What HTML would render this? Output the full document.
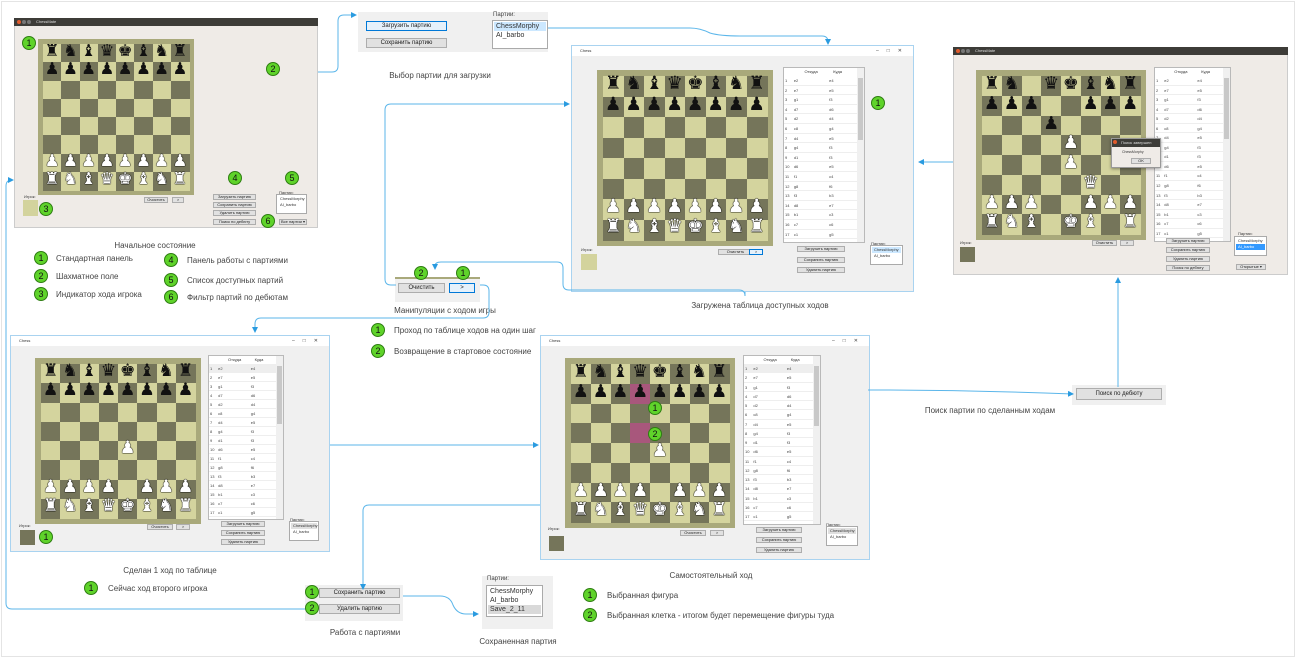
<!DOCTYPE html>
<html><head><meta charset="utf-8">
<style>
*{margin:0;padding:0;box-sizing:border-box}
body{width:1296px;height:658px;background:#fff;position:relative;overflow:hidden;font-family:"Liberation Sans","DejaVu Sans",sans-serif;color:#333}
.a{position:absolute}
.m{position:absolute;width:14px;height:14px;border-radius:50%;background:#5fd32a;border:1px solid #2e7d12;font-size:9px;line-height:12px;text-align:center;color:#111}
.t{position:absolute;font-size:8px;color:#444;white-space:nowrap}
.cap{position:absolute;font-size:8px;color:#444;white-space:nowrap;transform:translateX(-50%)}
.btn{position:absolute;background:#e1e1e1;border:1px solid #adadad;font-size:6px;text-align:center;color:#222;white-space:nowrap;overflow:hidden}
.pc{position:absolute;text-align:center;font-family:"DejaVu Sans",sans-serif}
</style></head><body>
<div class="a" style="left:1px;top:1px;width:1294px;height:656px;border:1px solid #e4e4e4"></div>
<div id="root"></div>

<!-- connectors -->
<svg class="a" style="left:0;top:0" width="1296" height="658">
<defs><marker id="ar" markerWidth="6" markerHeight="6" refX="5" refY="3" orient="auto"><path d="M0,0 L6,3 L0,6z" fill="#2a9be0"/></marker></defs>
<g fill="none" stroke="#5bb6ea" stroke-width="1">
<path d="M318,72 H332 Q338,72 338,66 V21 Q338,15 344,15 H356" marker-end="url(#ar)"/>
<path d="M548,28 H690 Q700,28 710,33 Q720,36 740,36 H822 Q828,36 828,42 V44" marker-end="url(#ar)"/>
<path d="M396,285 H391 Q385,285 385,279 V110 Q385,104 391,104 H569" marker-end="url(#ar)"/>
<path d="M745,292 V296 Q745,290 739,290 H569 Q563,290 563,284 V268 Q563,262 557,262 H441 Q435,262 435,266 V269" marker-end="url(#ar)"/>
<path d="M480,285 H483 Q489,285 489,291 V312 Q489,318 483,318 H261 Q255,318 255,324 V332" marker-end="url(#ar)"/>
<path d="M953,162 H919" marker-end="url(#ar)"/>
<path d="M1118,387 V278" marker-end="url(#ar)"/>
<path d="M330,445 H538" marker-end="url(#ar)"/>
<path d="M868,390 Q970,390 1073,394" marker-end="url(#ar)"/>
<path d="M540,505 H369 Q363,505 363,511 V589" marker-end="url(#ar)"/>
<path d="M305,609 H12 Q6,609 6,603 V186 Q6,180 12,180 H13" marker-end="url(#ar)"/>
<path d="M403,596 H440 Q450,596 453,605 Q457,614 466,614 H478" marker-end="url(#ar)"/>
</g>
</svg>

<script>
var R=document.getElementById('root'),H='';
function add(s){H+=s}
var init=["rnbqkbnr","pppppppp","........","........","........","........","PPPPPPPP","RNBQKBNR"];
var G={k:'♚',q:'♛',r:'♜',b:'♝',n:'♞',p:'♟'};
function board(x,y,s,pos,hl){
 var p=Math.round(s*0.035),q=(s-2*p)/8;
 add('<div class="a" style="left:'+x+'px;top:'+y+'px;width:'+s+'px;height:'+s+'px;background:#a9a97b"></div>');
 for(var r=0;r<8;r++)for(var c=0;c<8;c++){
  var col=((r+c)%2==0)?'#d4d49e':'#75755a';
  if(hl&&hl[r+','+c])col='#a8577c';
  var L=x+p+c*q,T=y+p+r*q;
  add('<div class="a" style="left:'+L.toFixed(1)+'px;top:'+T.toFixed(1)+'px;width:'+(q+0.5).toFixed(1)+'px;height:'+(q+0.5).toFixed(1)+'px;background:'+col+'"></div>');
  var ch=pos[r][c];
  if(ch!='.'){var w=ch==ch.toUpperCase();var g=G[ch.toLowerCase()];
   add('<div class="pc" style="left:'+L.toFixed(1)+'px;top:'+(T-q*0.1).toFixed(1)+'px;width:'+q.toFixed(1)+'px;font-size:'+(q*0.9).toFixed(1)+'px;line-height:'+q.toFixed(1)+'px;color:'+(w?'#fff':'#111')+';'+(w?'text-shadow:0 0 1px #000,0 0 1px #000,0 0 1px #000':'')+'">'+g+'</div>');}
 }
}
var mv=[["e2","e4"],["e7","e5"],["g1","f3"],["d7","d6"],["d2","d4"],["c8","g4"],["d4","e5"],["g4","f3"],["d1","f3"],["d6","e5"],["f1","c4"],["g8","f6"],["f3","b3"],["d8","e7"],["b1","c3"],["c7","c6"],["c1","g5"],["b7","b5"]];
function table(x,y,w,h,sel){
 add('<div class="a" style="left:'+x+'px;top:'+y+'px;width:'+w+'px;height:'+h+'px;background:#fff;border:1px solid #b9b9b9;overflow:hidden">');
 add('<div class="a" style="left:'+(w*0.25)+'px;top:1px;font-size:4px;color:#333">Откуда</div><div class="a" style="left:'+(w*0.6)+'px;top:1px;font-size:4px;color:#333">Куда</div>');
 var rh=(h-8)/17.5;
 for(var i=0;i<18;i++){var T=8+i*rh;
  add('<div class="a" style="left:0;top:'+T.toFixed(1)+'px;width:'+(w-9)+'px;height:'+rh.toFixed(1)+'px;border-bottom:1px solid #eee;font-size:4px;line-height:'+rh.toFixed(1)+'px;color:#444;'+(sel&&i==0?'background:#eee':'')+'"><span class="a" style="left:1px">'+(i+1)+'</span><span class="a" style="left:'+(w*0.12)+'px">'+mv[i][0]+'</span><span class="a" style="left:'+(w*0.55)+'px">'+mv[i][1]+'</span></div>');}
 add('<div class="a" style="right:0;top:0;width:7px;height:100%;background:#f0f0f0"></div><div class="a" style="right:1px;top:10px;width:5px;height:'+(h*0.35)+'px;background:#c8c8c8"></div></div>');
}
function win(x,y,w,h,ub,title){
 add('<div class="a" style="left:'+x+'px;top:'+y+'px;width:'+w+'px;height:'+h+'px;background:'+(ub?'#efebe7':'#f0f0f0')+';border:1px solid '+(ub?'#ccc':'#a9d3f0')+'"></div>');
 if(ub){add('<div class="a" style="left:'+x+'px;top:'+y+'px;width:'+w+'px;height:8px;background:#3d3c38;font-size:4px;color:#ddd;line-height:8px;padding-left:22px">ChessMate</div><div class="a" style="left:'+(x+3)+'px;top:'+(y+2)+'px;width:4px;height:4px;border-radius:50%;background:#e05a2b"></div><div class="a" style="left:'+(x+8)+'px;top:'+(y+2)+'px;width:4px;height:4px;border-radius:50%;background:#777"></div><div class="a" style="left:'+(x+13)+'px;top:'+(y+2)+'px;width:4px;height:4px;border-radius:50%;background:#777"></div>');}
 else{add('<div class="a" style="left:'+(x+1)+'px;top:'+(y+1)+'px;width:'+(w-2)+'px;height:10px;background:#fff;font-size:4px;line-height:10px;padding-left:8px;color:#333">Chess</div><div class="a" style="left:'+(x+w-38)+'px;top:'+(y+1)+'px;font-size:5px;line-height:10px;color:#444;letter-spacing:8px">–□✕</div>');}
}
function btn(x,y,w,h,t,blue){add('<div class="btn" style="left:'+x+'px;top:'+y+'px;width:'+w+'px;height:'+h+'px;font-size:'+(h>9?6:4)+'px;line-height:'+(h-2)+'px;'+(blue?'background:#e5f1fb;border-color:#0078d7':'')+'">'+t+'</div>')}
function list(x,y,w,h,items,sel,selc,fs){add('<div class="a" style="left:'+x+'px;top:'+y+'px;width:'+w+'px;height:'+h+'px;background:#fff;border:1px solid #aaa;padding:1px">');items.forEach(function(t,i){add('<div style="font-size:'+fs+'px;line-height:'+(fs+2)+'px;padding-left:2px;'+(i==sel?'background:'+selc+';'+(selc=='#3399ff'?'color:#fff':''):'')+'">'+t+'</div>')});add('</div>')}
function mk(x,y,n){add('<div class="m" style="left:'+(x-7)+'px;top:'+(y-7)+'px">'+n+'</div>')}
function t4(x,y,s){add('<div class="a" style="left:'+x+'px;top:'+y+'px;font-size:4px;color:#333">'+s+'</div>')}

/* Window A */
win(14,18,304,210,true);
board(38,39,156,init);
btn(144,197,24,6,'Очистить');btn(172,197,12,6,'&gt;');
btn(213,194,43,6,'Загрузить партию');btn(213,202,43,6,'Сохранить партию');btn(213,210,43,6,'Удалить партию');btn(213,219,43,6,'Поиск по дебюту');
t4(279,190,'Партии:');list(276,194,31,20,['ChessMorphy','AI_barbo'],-1,'',4);
btn(279,219,28,6,'Все партии ▾');t4(24,194,'Игрок:');
add('<div class="a" style="left:23px;top:200px;width:15px;height:16px;background:#d3d39d"></div>');
mk(29,43,1);mk(273,69,2);mk(46,209,3);mk(235,178,4);mk(292,178,5);mk(268,221,6);

/* Window B */
win(571,45,343,247,false);
board(597,70,176,init);
table(783,67,82,176,false);
btn(718,249,35,6,'Очистить');btn(749,249,14,6,'&gt;',true);
btn(797,246,48,6,'Загрузить партию');btn(797,257,48,6,'Сохранить партию');btn(797,267,48,6,'Удалить партию');
t4(871,241,'Партии:');list(870,245,33,20,['ChessMorphy','AI_barbo'],0,'#cce8ff',4);
t4(581,247,'Игрок:');add('<div class="a" style="left:581px;top:254px;width:16px;height:16px;background:#d3d39d"></div>');
mk(878,103,1);

/* Window C */
win(953,47,335,228,true);
board(976,70,170,["rn.qkbnr","ppp..ppp","...p....","....P...","....P...",".....Q..","PPP..PPP","RNB.KB.R"]);
table(1154,67,77,175,false);
add('<div class="a" style="left:1111px;top:138px;width:50px;height:30px;background:#efebe7;border:1px solid #999;box-shadow:0 1px 3px rgba(0,0,0,.4)"><div style="height:8px;background:#3d3c38;color:#ddd;font-size:4px;line-height:8px;padding-left:9px">Поиск завершен</div><div style="font-size:3.5px;padding:3px 0 0 10px">ChessMorphy</div></div>');
add('<div class="a" style="left:1113px;top:140px;width:4px;height:4px;border-radius:50%;background:#e05a2b"></div>');
btn(1131,158,20,6,'OK');
btn(1092,240,25,6,'Очистить');btn(1120,240,14,6,'&gt;');
btn(1166,238,44,6,'Загрузить партию');btn(1166,247,44,6,'Сохранить партию');btn(1166,256,44,6,'Удалить партию');btn(1166,265,44,6,'Поиск по дебюту');
t4(1238,231,'Партии:');list(1234,236,33,20,['ChessMorphy','AI_barbo'],1,'#3399ff',4);
btn(1236,264,30,6,'Открытые ▾');t4(960,240,'Игрок:');
add('<div class="a" style="left:960px;top:247px;width:15px;height:15px;background:#75755a"></div>');

/* Window D */
win(10,335,320,217,false);
board(35,358,166,["rnbqkbnr","pppppppp","........","........","....P...","........","PPPP.PPP","RNBQKBNR"]);
table(208,355,76,165,true);
btn(147,524,26,6,'Очистить');btn(176,524,14,6,'&gt;');
btn(221,521,44,6,'Загрузить партию');btn(221,530,44,6,'Сохранить партию');btn(221,539,44,6,'Удалить партию');
t4(290,517,'Партии:');list(289,521,30,20,['ChessMorphy','AI_barbo'],0,'#e0e0e0',4);
t4(19,523,'Игрок:');add('<div class="a" style="left:20px;top:530px;width:15px;height:15px;background:#75755a"></div>');
mk(46,537,1);

/* Window E */
win(540,335,330,225,false);
board(565,358,170,["rnbqkbnr","pppppppp","........","........","....P...","........","PPPP.PPP","RNBQKBNR"],{"1,3":1,"3,3":1});
mk(655,408,1);mk(655,434,2);
table(743,355,78,170,true);
btn(680,530,26,6,'Очистить');btn(710,530,14,6,'&gt;');
btn(756,527,46,6,'Загрузить партию');btn(756,537,46,6,'Сохранить партию');btn(756,547,46,6,'Удалить партию');
t4(826,522,'Партии:');list(826,526,32,20,['ChessMorphy','AI_barbo'],0,'#e0e0e0',4);
t4(548,526,'Игрок:');add('<div class="a" style="left:549px;top:536px;width:15px;height:15px;background:#75755a"></div>');

/* Load panel */
add('<div class="a" style="left:358px;top:12px;width:190px;height:40px;background:#f0f0f0"></div>');
btn(366,21,81,10,'Загрузить партию',true);btn(366,38,81,10,'Сохранить партию');
add('<div class="t" style="left:493px;top:12px;font-size:6px">Партии:</div>');
list(492,20,56,29,['ChessMorphy','AI_barbo'],0,'#cce8ff',7);

/* Manip panel */
add('<div class="a" style="left:395px;top:277px;width:85px;height:25px;background:#f0f0f0;border-top:2px solid #a9a97b"></div>');
btn(398,283,47,10,'Очистить');btn(449,283,26,10,'&gt;',true);
mk(421,273,2);mk(463,273,1);

/* Rabota panel */
add('<div class="a" style="left:305px;top:585px;width:98px;height:36px;background:#f0f0f0"></div>');
btn(319,588,81,10,'Сохранить партию');btn(319,604,81,10,'Удалить партию');
mk(312,592,1);mk(312,608,2);

/* Saved */
add('<div class="a" style="left:482px;top:576px;width:71px;height:53px;background:#f0f0f0"></div>');
add('<div class="t" style="left:487px;top:576px;font-size:6px">Партии:</div>');
list(486,585,57,32,['ChessMorphy','AI_barbo','Save_2_11'],2,'#d9d9d9',7);

/* Poisk */
add('<div class="a" style="left:1072px;top:385px;width:94px;height:20px;background:#f0f0f0"></div>');
btn(1076,388,86,12,'Поиск по дебюту');

/* legends */
mk(41,258,1);mk(41,276,2);mk(41,294,3);mk(171,260,4);mk(171,280,5);mk(171,297,6);
add('<div class="t" style="left:56px;top:254px">Стандартная панель</div><div class="t" style="left:56px;top:272px">Шахматное поле</div><div class="t" style="left:56px;top:290px">Индикатор хода игрока</div>');
add('<div class="t" style="left:187px;top:256px">Панель работы с партиями</div><div class="t" style="left:187px;top:276px">Список доступных партий</div><div class="t" style="left:187px;top:293px">Фильтр партий по дебютам</div>');
mk(378,330,1);mk(378,351,2);
add('<div class="t" style="left:394px;top:326px">Проход по таблице ходов на один шаг</div><div class="t" style="left:394px;top:347px">Возвращение в стартовое состояние</div>');
mk(91,588,1);add('<div class="t" style="left:108px;top:584px">Сейчас ход второго игрока</div>');
mk(590,595,1);mk(590,615,2);
add('<div class="t" style="left:607px;top:591px">Выбранная фигура</div><div class="t" style="left:607px;top:611px">Выбранная клетка - итогом будет перемещение фигуры туда</div>');

/* captions */
[[155,241,'Начальное состояние'],[440,71,'Выбор партии для загрузки'],[445,306,'Манипуляции с ходом игры'],[760,301,'Загружена таблица доступных ходов'],[990,406,'Поиск партии по сделанным ходам'],[170,566,'Сделан 1 ход по таблице'],[711,571,'Самостоятельный ход'],[365,628,'Работа с партиями'],[518,637,'Сохраненная партия']].forEach(function(c){add('<div class="cap" style="left:'+c[0]+'px;top:'+c[1]+'px">'+c[2]+'</div>')});
R.innerHTML=H;
</script>
</body></html>
